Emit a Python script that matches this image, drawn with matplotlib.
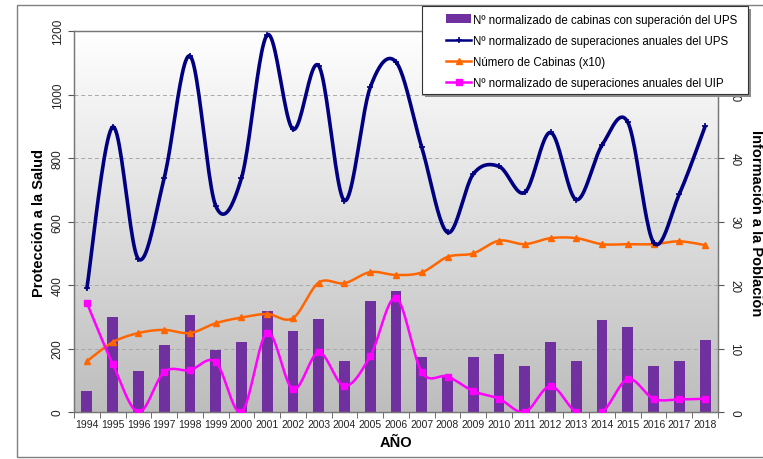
"""Recreate the UPS / UIP yearly chart with matplotlib."""
import numpy as np
import matplotlib
matplotlib.use("Agg")
import matplotlib.pyplot as plt
from matplotlib.colors import LinearSegmentedColormap
from matplotlib.patches import Rectangle

plt.rcParams['font.family'] = ['Liberation Sans', 'DejaVu Sans']

years = list(range(1994, 2019))
# bars: normalised number of cabins above UPS (left axis units)
cabinas_ups = [67, 298, 131, 211, 306, 195, 220, 317, 255, 294, 160, 349, 381,
               173, 111, 175, 182, 144, 220, 160, 290, 269, 144, 162, 226]
# normalised yearly exceedances of UPS (left axis)
superaciones_ups = [391, 898, 482, 737, 1122, 650, 737, 1188, 891, 1091, 666, 1023, 1103,
                    834, 566, 750, 774, 692, 881, 669, 841, 913, 534, 687, 900]
# number of cabins x10 (left axis)
num_cabinas = [160, 220, 249, 259, 249, 280, 298, 309, 296, 408, 406, 441, 432,
               440, 489, 500, 540, 529, 548, 548, 529, 529, 529, 538, 526]
# normalised yearly exceedances of UIP (right axis)
superaciones_uip = [17.2, 7.6, 0, 6.3, 6.6, 7.9, 0, 12.5, 3.6, 9.4, 4.1, 8.8, 18.0,
                    6.3, 5.6, 3.3, 2.1, 0, 4.1, 0, 0, 5.2, 2.1, 2.0, 2.1]
right_ticks = [0, 10, 20, 30, 40, 50]


def smooth(x, y, n=24):
    """Excel-like smoothed line through the points (bezier, tension 1/6)."""
    x = np.asarray(x, float)
    y = np.asarray(y, float)
    xs, ys = [], []
    m = len(x)
    for i in range(m - 1):
        p0 = np.array([x[max(i - 1, 0)], y[max(i - 1, 0)]])
        p1 = np.array([x[i], y[i]])
        p2 = np.array([x[i + 1], y[i + 1]])
        p3 = np.array([x[min(i + 2, m - 1)], y[min(i + 2, m - 1)]])
        c1 = p1 + (p2 - p0) / 6.0
        c2 = p2 - (p3 - p1) / 6.0
        t = np.linspace(0, 1, n)[:, None]
        pts = ((1 - t) ** 3) * p1 + 3 * ((1 - t) ** 2) * t * c1 + 3 * (1 - t) * t ** 2 * c2 + t ** 3 * p2
        xs.extend(pts[:, 0])
        ys.extend(pts[:, 1])
    return np.array(xs), np.array(ys)


fig = plt.figure(figsize=(7.63, 4.6), dpi=100)
fig.patch.set_facecolor('white')
ax = fig.add_axes([0.097, 0.102, 0.844, 0.828])
ax2 = ax.twinx()

# gradient background of the plot area
cmap = LinearSegmentedColormap.from_list('bg', ['#bdbdbd', '#ffffff'])
ax.imshow(np.linspace(0, 1, 256)[:, None], cmap=cmap, origin='lower', aspect='auto',
          extent=[0, 1, 0, 1], transform=ax.transAxes, zorder=0)
ax.patch.set_visible(False)

x = np.arange(len(years))

ax.set_axisbelow(True)
ax.grid(axis='y', color='#a8a8a8', linestyle=(0, (4, 3)), linewidth=0.7)

h_bar = ax.bar(x, cabinas_ups, width=0.42, color='#7030A0', zorder=2,
               label='Nº normalizado de cabinas con superación del UPS')

sx, sy = smooth(x, superaciones_ups)
ax.plot(sx, sy, color='#000080', lw=2.6, zorder=4, solid_capstyle='round')
ax.plot(x, superaciones_ups, ls='none', marker='+', ms=4, mew=1.2, color='#000080', zorder=4)
h_ups, = ax.plot([], [], color='#000080', lw=1.8, marker='+', ms=5, mew=1.2,
                 label='Nº normalizado de superaciones anuales del UPS')

sx, sy = smooth(x, num_cabinas)
ax.plot(sx, sy, color='#FF6600', lw=1.8, zorder=3)
ax.plot(x, num_cabinas, ls='none', marker='^', ms=4, color='#FF6600', zorder=3)
h_cab, = ax.plot([], [], color='#FF6600', lw=1.8, marker='^', ms=4,
                 label='Número de Cabinas (x10)')

sx, sy = smooth(x, superaciones_uip)
ax2.plot(sx, sy, color='#FF00FF', lw=1.8, zorder=3)
ax2.plot(x, superaciones_uip, ls='none', marker='s', ms=4, color='#FF00FF', zorder=3)
h_uip, = ax2.plot([], [], color='#FF00FF', lw=1.8, marker='s', ms=4,
                  label='Nº normalizado de superaciones anuales del UIP')

ax.set_xlim(-0.5, len(years) - 0.5)
ax.set_ylim(0, 1200)
ax2.set_ylim(0, 60)
ax.set_yticks(range(0, 1201, 200))
ax2.set_yticks(right_ticks)

ax.set_xticks(x)
ax.set_xticklabels([str(y) for y in years], fontsize=7.5, color='#222222')
ax.set_xticks(np.arange(-0.5, len(years), 1), minor=True)
ax.tick_params(axis='x', which='major', length=0, pad=5)
ax.tick_params(axis='x', which='minor', length=4, color='#555555')
ax.tick_params(axis='y', labelsize=8.5, labelrotation=90, length=4, color='#555555',
               labelcolor='#222222')
for lab in ax.get_yticklabels():
    lab.set_va('center')
ax2.tick_params(axis='y', labelsize=8.5, labelrotation=-90, length=4, color='#555555',
                labelcolor='#222222')
for lab in ax2.get_yticklabels():
    lab.set_va('center')

for a in (ax, ax2):
    for s in a.spines.values():
        s.set_color('#777777')
        s.set_linewidth(0.9)

ax.set_xlabel('AÑO', fontsize=10.5, fontweight='bold', labelpad=4)
ax.set_ylabel('Protección a la Salud', fontsize=10.5, fontweight='bold', labelpad=4)
ax2.set_ylabel('Información a la Población', fontsize=10.5, fontweight='bold',
               rotation=-90, labelpad=16)

# legend box with shadow, drawn by hand so the padding matches
bx0, by0, bw, bh = 0.553, 0.7935, 0.427, 0.1915
fig.patches.append(Rectangle((bx0 + 0.004, by0 - 0.007), bw, bh, transform=fig.transFigure,
                             facecolor='#8c8c8c', edgecolor='none', zorder=4))
fig.patches.append(Rectangle((bx0, by0), bw, bh, transform=fig.transFigure,
                             facecolor='white', edgecolor='#333333', lw=0.8, zorder=4.5))
leg = fig.legend(handles=[h_bar, h_ups, h_cab, h_uip], loc='upper left',
                 bbox_to_anchor=(0.577, 0.981), fontsize=8.3, frameon=False,
                 handlelength=2.2, handletextpad=0.15, borderpad=0, labelspacing=0.8)
leg.set_zorder(5)

# outer chart frame
fig.patches.append(Rectangle((0.022, 0.004), 1.2, 0.983, transform=fig.transFigure,
                             fill=False, edgecolor='#808080', lw=1.0, zorder=3))

fig.savefig('out.png', dpi=100)
